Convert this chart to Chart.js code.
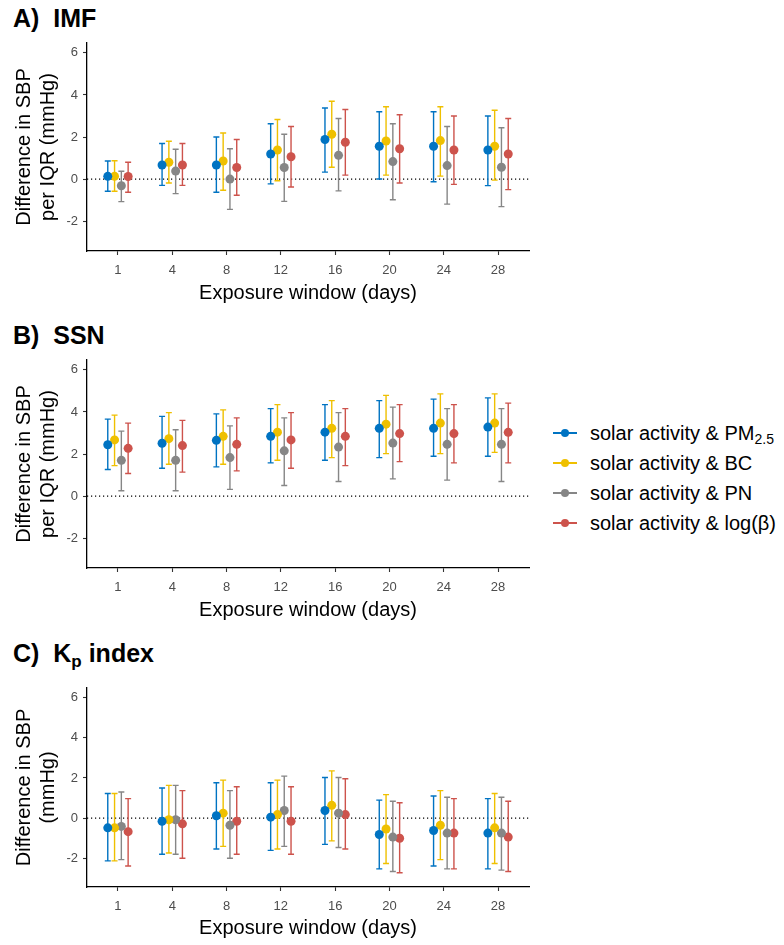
<!DOCTYPE html>
<html>
<head>
<meta charset="utf-8">
<script src="https://cdn.jsdelivr.net/npm/chart.js@4.4.1/dist/chart.umd.min.js"></script>
<style>
  body { margin: 0; background: #fff; width: 784px; height: 945px; position: relative; overflow: hidden;
         font-family: "Liberation Sans", Arial, sans-serif; }
  canvas { position: absolute; left: 0; }
  .ptitle { position: absolute; left: 13px; font-weight: bold; font-size: 25px; line-height: 25px; white-space: pre; color: #000; }
  .ptitle sub { font-size: 17px; vertical-align: -5px; line-height: 0; }
  .legend { position: absolute; left: 553px; top: 418px; }
  .row { height: 30px; display: flex; align-items: center; font-size: 20px; color: #000; }
  .row sub { font-size: 14px; vertical-align: -4px; line-height: 0; }
  .key { position: relative; width: 24px; height: 30px; margin-right: 13px; }
  .key .ln { position: absolute; left: 0; top: 14px; width: 24px; height: 1.5px; }
  .key .dot { position: absolute; left: 8px; top: 11px; width: 8px; height: 8px; border-radius: 50%; }
</style>
</head>
<body>
<div class="ptitle" style="top:6px">A)  IMF</div>
<div class="ptitle" style="top:323px">B)  SSN</div>
<div class="ptitle" style="top:641px">C)  K<sub>p</sub> index</div>

<canvas id="chartA" width="540" height="280" style="top:30px"></canvas>
<canvas id="chartB" width="540" height="280" style="top:347px"></canvas>
<canvas id="chartC" width="540" height="270" style="top:675px"></canvas>

<div class="legend" id="legend"></div>

<script>
// exposure windows (days)
const windows = ['1', '4', '8', '12', '16', '20', '24', '28'];
const seriesNames = ['solar activity & PM<sub>2.5</sub>', 'solar activity & BC', 'solar activity & PN', 'solar activity & log(β)'];
const seriesColors = ['#0073C2', '#EFC000', '#868686', '#CD534C'];
const yTicks = [-2, 0, 2, 4, 6];

// rows: PM2.5, BC, PN, log(beta)
// A) IMF
const imfEst = [
  [0.13, 0.67, 0.67, 1.19, 1.88, 1.56, 1.56, 1.38],
  [0.13, 0.80, 0.86, 1.38, 2.13, 1.81, 1.83, 1.56],
  [-0.32, 0.38, 0.00, 0.55, 1.13, 0.83, 0.64, 0.56],
  [0.12, 0.67, 0.55, 1.06, 1.75, 1.44, 1.38, 1.19]
];
const imfLo = [
  [-0.58, -0.30, -0.63, -0.23, 0.33, 0.00, -0.13, -0.31],
  [-0.58, -0.19, -0.53, -0.08, 0.56, 0.19, 0.14, -0.05],
  [-1.07, -0.69, -1.44, -1.06, -0.56, -0.98, -1.19, -1.31],
  [-0.63, -0.30, -0.77, -0.38, 0.19, -0.19, -0.25, -0.50]
];
const imfHi = [
  [0.86, 1.69, 2.00, 2.63, 3.38, 3.20, 3.20, 3.00],
  [0.87, 1.80, 2.19, 2.83, 3.70, 3.44, 3.44, 3.27],
  [0.37, 1.42, 1.44, 2.13, 2.88, 2.63, 2.50, 2.44],
  [0.80, 1.69, 1.88, 2.50, 3.31, 3.06, 3.00, 2.88]
];

// B) SSN
const ssnEst = [
  [2.44, 2.51, 2.65, 2.84, 3.04, 3.22, 3.22, 3.28],
  [2.67, 2.73, 2.84, 3.04, 3.22, 3.42, 3.47, 3.47],
  [1.70, 1.70, 1.83, 2.15, 2.33, 2.52, 2.46, 2.46],
  [2.27, 2.40, 2.46, 2.67, 2.84, 2.97, 2.97, 3.03]
];
const ssnLo = [
  [1.26, 1.32, 1.39, 1.58, 1.70, 1.83, 1.89, 1.89],
  [1.45, 1.51, 1.51, 1.70, 1.83, 2.02, 2.02, 2.08],
  [0.25, 0.25, 0.32, 0.50, 0.69, 0.82, 0.76, 0.69],
  [1.07, 1.14, 1.20, 1.32, 1.45, 1.64, 1.58, 1.58]
];
const ssnHi = [
  [3.66, 3.79, 3.91, 4.16, 4.35, 4.54, 4.61, 4.67],
  [3.85, 3.97, 4.10, 4.35, 4.54, 4.79, 4.86, 4.86],
  [3.09, 3.15, 3.34, 3.72, 3.97, 4.23, 4.16, 4.16],
  [3.47, 3.60, 3.72, 3.97, 4.16, 4.35, 4.35, 4.42]
];

// C) Kp index
const kpEst = [
  [-0.48, -0.15, 0.12, 0.05, 0.38, -0.81, -0.61, -0.74],
  [-0.48, -0.08, 0.25, 0.18, 0.64, -0.54, -0.35, -0.48],
  [-0.41, -0.08, -0.35, 0.38, 0.25, -0.94, -0.74, -0.74],
  [-0.67, -0.28, -0.15, -0.15, 0.18, -1.00, -0.74, -0.94]
];
const kpLo = [
  [-2.12, -1.79, -1.53, -1.60, -1.30, -2.52, -2.38, -2.52],
  [-2.12, -1.73, -1.40, -1.53, -1.13, -2.25, -2.06, -2.25],
  [-2.06, -1.79, -1.99, -1.40, -1.46, -2.65, -2.52, -2.58],
  [-2.38, -1.99, -1.79, -1.79, -1.53, -2.71, -2.52, -2.65]
];
const kpHi = [
  [1.23, 1.50, 1.76, 1.76, 2.02, 0.90, 1.10, 0.97],
  [1.23, 1.63, 1.89, 1.89, 2.35, 1.17, 1.37, 1.23],
  [1.30, 1.63, 1.37, 2.09, 2.02, 0.84, 1.04, 1.04],
  [0.97, 1.37, 1.56, 1.56, 1.96, 0.77, 0.97, 0.84]
];

Chart.defaults.font.family = '"Liberation Sans", Arial, sans-serif';

// dodge like ggplot position_dodge(width = 0.5) with 4 groups
const dodgeW = 0.5;
function dodge(j) { return -dodgeW / 2 + dodgeW / 8 + j * dodgeW / 4; }

// zero line + error bars, drawn under the points
const errorBars = {
  id: 'errorBars',
  beforeDatasetsDraw(chart) {
    const ctx = chart.ctx, xs = chart.scales.x, ys = chart.scales.y, area = chart.chartArea;
    ctx.save();
    const y0 = ys.getPixelForValue(0);
    ctx.strokeStyle = '#000';
    ctx.lineWidth = 1.2;
    ctx.setLineDash([1.2, 2.8]);
    ctx.beginPath();
    ctx.moveTo(area.left, y0);
    ctx.lineTo(area.right, y0);
    ctx.stroke();
    ctx.setLineDash([]);
    chart.data.datasets.forEach(ds => {
      ctx.strokeStyle = ds.backgroundColor;
      ctx.lineWidth = 1.4;
      ds.data.forEach(p => {
        const px = xs.getPixelForValue(p.x);
        const top = ys.getPixelForValue(p.hi);
        const bot = ys.getPixelForValue(p.lo);
        ctx.beginPath();
        ctx.moveTo(px, top); ctx.lineTo(px, bot);
        ctx.moveTo(px - 3, top); ctx.lineTo(px + 3, top);
        ctx.moveTo(px - 3, bot); ctx.lineTo(px + 3, bot);
        ctx.stroke();
      });
    });
    ctx.restore();
  }
};

function makePanel(id, est, lo, hi, yTitle, xAreaH) {
  const datasets = est.map((row, j) => ({
    label: seriesNames[j],
    data: row.map((v, i) => ({ x: i + dodge(j), y: v, lo: lo[j][i], hi: hi[j][i] })),
    backgroundColor: seriesColors[j],
    borderColor: seriesColors[j],
    borderWidth: 0,
    pointRadius: 4.5
  }));

  new Chart(document.getElementById(id).getContext('2d'), {
    type: 'scatter',
    data: { datasets: datasets },
    options: {
      responsive: false,
      animation: false,
      events: [],
      layout: { padding: { top: 13, right: 11, left: 0, bottom: 0 } },
      plugins: { legend: { display: false }, tooltip: { enabled: false } },
      scales: {
        x: {
          type: 'linear', min: -0.57, max: 7.57,
          afterBuildTicks: s => { s.ticks = windows.map((w, i) => ({ value: i })); },
          afterFit: s => { s.height = xAreaH; },
          ticks: { callback: (v, i) => windows[i], color: '#4D4D4D', font: { size: 13 }, padding: 8, autoSkip: false, maxRotation: 0 },
          grid: { drawOnChartArea: false, tickLength: 4, tickColor: '#333', tickWidth: 1.1 },
          border: { color: '#000', width: 1.3 },
          title: { display: true, text: 'Exposure window (days)', color: '#000', font: { size: 20 }, padding: { top: 0, bottom: 5 } }
        },
        y: {
          min: -3.42, max: 6.47,
          afterBuildTicks: s => { s.ticks = yTicks.map(v => ({ value: v })); },
          afterFit: s => { s.width = 87; },
          ticks: { color: '#4D4D4D', font: { size: 13 }, padding: 5 },
          grid: { drawOnChartArea: false, tickLength: 4, tickColor: '#333', tickWidth: 1.1 },
          border: { color: '#000', width: 1.3 },
          title: { display: true, text: yTitle, color: '#000', font: { size: 20 }, padding: { top: 12, bottom: 0 } }
        }
      }
    },
    plugins: [errorBars]
  });
}

makePanel('chartA', imfEst, imfLo, imfHi, ['Difference in SBP', 'per IQR (mmHg)'], 59);
makePanel('chartB', ssnEst, ssnLo, ssnHi, ['Difference in SBP', 'per IQR (mmHg)'], 59);
makePanel('chartC', kpEst, kpLo, kpHi, ['Difference in SBP', '(mmHg)'], 58);

// legend
const legend = document.getElementById('legend');
seriesNames.forEach((name, j) => {
  const row = document.createElement('div');
  row.className = 'row';
  row.innerHTML = '<div class="key"><div class="ln" style="background:' + seriesColors[j] + '"></div>' +
    '<div class="dot" style="background:' + seriesColors[j] + '"></div></div><span>' + name + '</span>';
  legend.appendChild(row);
});
</script>
</body>
</html>
